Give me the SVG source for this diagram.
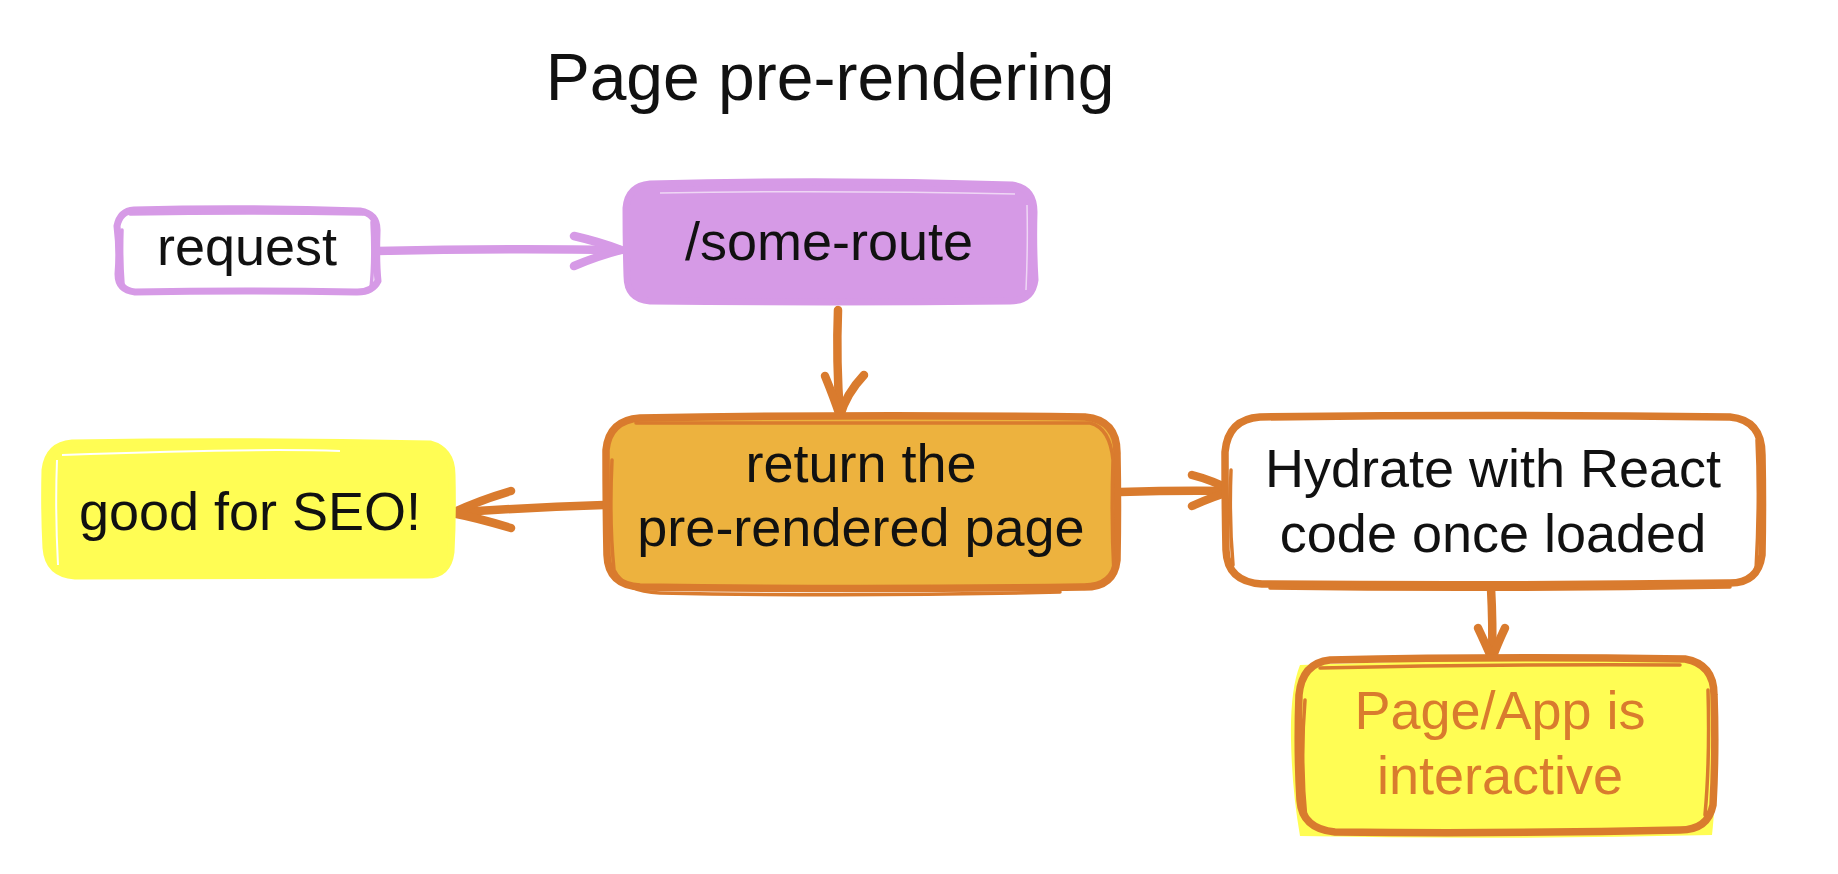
<svg xmlns="http://www.w3.org/2000/svg" width="1838" height="874" viewBox="0 0 1838 874">
  <style>
    .label { font-family: "Liberation Sans", Arial, sans-serif; font-size: 54px; fill: #111; text-anchor: middle; }
    .title { font-family: "Liberation Sans", Arial, sans-serif; font-size: 66px; fill: #111; text-anchor: middle; }
    .orange-text { fill: #d97b2e; }
    .edge-orange { fill: none; stroke: #d97b2e; stroke-width: 8.5; stroke-linecap: round; stroke-linejoin: round; }
    .edge-purple { fill: none; stroke: #d69ae6; stroke-width: 8.5; stroke-linecap: round; stroke-linejoin: round; }
    .sketch-o { fill: none; stroke: #d97b2e; stroke-width: 7.5; stroke-linejoin: round; }
    .sketch-o2 { fill: none; stroke: #d97b2e; stroke-width: 3.5; stroke-linecap: round; stroke-linejoin: round; }
    .sketch-p { fill: none; stroke: #d69ae6; stroke-width: 7; stroke-linejoin: round; }
    .sketch-p2 { fill: none; stroke: #d69ae6; stroke-width: 3.5; stroke-linecap: round; stroke-linejoin: round; }
    .sketch-y { fill: none; stroke: #fffd54; stroke-width: 7; }
  </style>

  <rect width="1838" height="874" fill="#ffffff"/>

  <text class="title" x="830" y="100">Page pre-rendering</text>

  <!-- connectors -->
  <g id="connectors">
    <!-- request -> /some-route -->
    <path class="edge-purple" d="M377 251 Q500 248 620 250"/>
    <path class="edge-purple" d="M574 236 Q600 242 621 250 M574 266 Q598 256 621 250"/>
    <!-- /some-route -> return -->
    <path class="edge-orange" d="M838 310 Q836 360 840 416"/>
    <path class="edge-orange" d="M825 376 Q834 398 840 416 M864 375 Q846 394 840 416"/>
    <!-- return -> good for SEO -->
    <path class="edge-orange" d="M604 505 Q530 507 452 513"/>
    <path class="edge-orange" d="M511 491 Q480 500 452 513 M511 528 Q478 518 452 513"/>
    <!-- return -> hydrate -->
    <path class="edge-orange" d="M1120 492 Q1180 490 1233 491"/>
    <path class="edge-orange" d="M1192 475 Q1212 480 1233 491 M1192 506 Q1214 496 1233 491"/>
    <!-- hydrate -> page/app -->
    <path class="edge-orange" d="M1491 588 Q1493 625 1492 659"/>
    <path class="edge-orange" d="M1478 628 Q1486 645 1492 659 M1505 628 Q1497 645 1492 659"/>
  </g>

  <!-- request -->
  <g id="node-request">
    <rect x="117" y="209" width="260" height="84" rx="16" fill="#ffffff"/>
    <path class="sketch-p" d="M134 210 Q246 207 360 211 Q378 214 377 232 Q376 262 378 281 Q372 293 355 292 Q245 290 135 292 Q118 290 118 274 Q120 250 117 226 Q120 211 134 210 Z"/>
    <path class="sketch-p2" d="M130 214 Q250 212 363 214 M372 222 Q374 260 371 288 M122 230 Q121 258 123 284"/>
    <text class="label" x="247" y="265">request</text>
  </g>

  <!-- /some-route -->
  <g id="node-some-route">
    <path d="M650 184 Q830 179 1012 185 Q1034 188 1034 212 Q1033 246 1035 280 Q1032 301 1010 301 Q830 303 650 301 Q627 299 627 276 Q626 244 626 208 Q628 186 650 184 Z" fill="#d69ae6"/>
    <path class="sketch-p" d="M650 184 Q830 179 1012 185 Q1034 188 1034 212 Q1033 246 1035 280 Q1032 301 1010 301 Q830 303 650 301 Q627 299 627 276 Q626 244 626 208 Q628 186 650 184 Z"/>
    <path d="M660 193 Q830 190 1015 194 M1027 205 Q1028 245 1026 290" fill="none" stroke="#ffffff" stroke-width="1.5" opacity="0.6"/>
    <text class="label" x="829" y="260">/some-route</text>
  </g>

  <!-- return the pre-rendered page -->
  <g id="node-return">
    <path d="M640 418 Q860 414 1085 417 Q1118 420 1117 455 Q1118 505 1117 560 Q1114 588 1082 587 Q860 590 640 587 Q608 585 607 555 Q606 505 606 450 Q609 420 640 418 Z" fill="#edb23e"/>
    <path class="sketch-o" d="M640 418 Q860 414 1085 417 Q1118 420 1117 455 Q1118 505 1117 560 Q1114 588 1082 587 Q860 590 640 587 Q608 585 607 555 Q606 505 606 450 Q609 420 640 418 Z"/>
    <path class="sketch-o2" d="M636 423 Q860 422 1090 423 Q1110 428 1113 460 Q1111 520 1114 575 M612 460 Q609 520 614 570 Q625 592 660 593 Q860 597 1060 592"/>
    <text class="label" x="861" y="482">return the</text>
    <text class="label" x="861" y="546">pre-rendered page</text>
  </g>

  <!-- good for SEO! -->
  <g id="node-seo">
    <path d="M72 443 Q250 440 430 444 Q452 450 452 475 Q453 515 451 552 Q448 576 425 575 Q250 576 75 576 Q48 574 46 548 Q44 510 45 470 Q48 445 72 443 Z" fill="#fffd54"/>
    <path class="sketch-y" d="M72 443 Q250 440 430 444 Q452 450 452 475 Q453 515 451 552 Q448 576 425 575 Q250 576 75 576 Q48 574 46 548 Q44 510 45 470 Q48 445 72 443 Z"/>
    <path d="M62 455 Q250 448 340 451 M57 460 Q55 510 58 565" fill="none" stroke="#ffffff" stroke-width="2"/>
    <text class="label" x="250" y="530">good for SEO!</text>
  </g>

  <!-- Hydrate with React -->
  <g id="node-hydrate">
    <path d="M1260 417 Q1495 414 1730 417 Q1762 420 1762 455 Q1763 505 1762 555 Q1758 584 1728 583 Q1495 586 1262 584 Q1227 582 1226 550 Q1225 500 1225 452 Q1228 419 1260 417 Z" fill="#ffffff"/>
    <path class="sketch-o" d="M1260 417 Q1495 414 1730 417 Q1762 420 1762 455 Q1763 505 1762 555 Q1758 584 1728 583 Q1495 586 1262 584 Q1227 582 1226 550 Q1225 500 1225 452 Q1228 419 1260 417 Z"/>
    <path class="sketch-o2" d="M1231 470 Q1229 520 1233 565 M1757 440 Q1760 500 1756 570 M1270 588 Q1495 591 1730 587"/>
    <text class="label" x="1493" y="487">Hydrate with React</text>
    <text class="label" x="1493" y="552">code once loaded</text>
  </g>

  <!-- Page/App is interactive -->
  <g id="node-interactive">
    <path d="M1300 665 Q1500 657 1700 660 Q1717 680 1716 740 Q1716 800 1712 835 Q1500 840 1300 836 Q1292 790 1291 740 Q1290 690 1300 665 Z" fill="#fffd54"/>
    <path class="sketch-o" d="M1330 660 Q1500 656 1685 659 Q1714 664 1714 695 Q1716 750 1713 805 Q1708 830 1680 830 Q1500 834 1335 832 Q1302 829 1300 800 Q1297 750 1299 695 Q1302 663 1330 660 Z"/>
    <path class="sketch-o2" d="M1305 700 Q1300 760 1306 820 M1708 690 Q1710 760 1705 815 M1320 668 Q1500 664 1680 665"/>
    <text class="label orange-text" x="1500" y="729">Page/App is</text>
    <text class="label orange-text" x="1500" y="794">interactive</text>
  </g>
</svg>
